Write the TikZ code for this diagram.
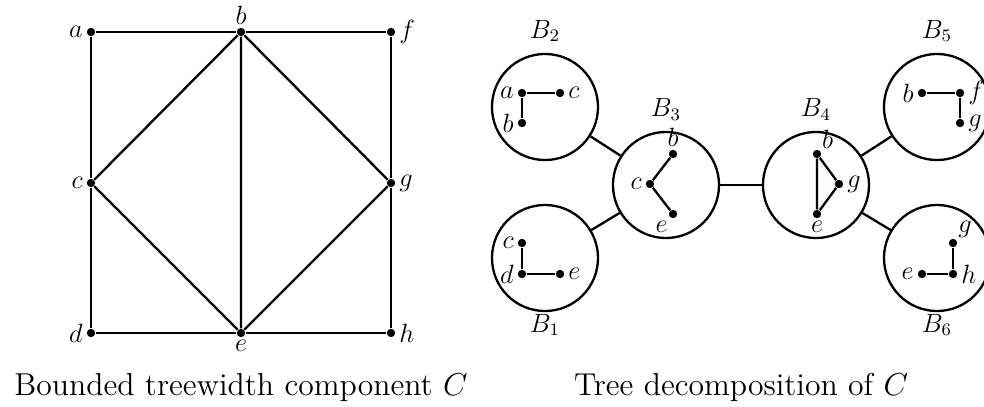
\documentclass[tikz,border=0pt]{standalone}
\begin{document}
\begin{tikzpicture}[x=0.4545pt,y=-0.4545pt,
  vert/.style={circle,fill,inner sep=0pt,minimum size=3.8pt},
  bag/.style={circle,draw,line width=1.05pt,inner sep=0pt,minimum size=48.2pt},
  every label/.style={inner sep=1.5pt,font=\fontsize{11.5}{14}\selectfont},
  blab/.style={anchor=base,font=\fontsize{11.5}{14}\selectfont},
  edge/.style={line width=1.05pt},
  captext/.style={inner sep=0pt,font=\Large,anchor=base}]
\useasboundingbox (0,0) rectangle (984,407);
% left graph
\node[vert,label=left:$a$] (a) at (91,32) {};
\node[vert,label={[label distance=-0.5pt]above:$b$}] (b) at (241,32) {};
\node[vert,label=right:$f$] (f) at (391,32) {};
\node[vert,label=left:$c$] (c) at (91,183) {};
\node[vert,label=right:$g$] (g) at (391,183) {};
\node[vert,label=left:$d$] (d) at (91,333) {};
\node[vert,label={[label distance=-0.5pt]below:$e$}] (e) at (241,333) {};
\node[vert,label=right:$h$] (h) at (391,333) {};
\draw[edge] (a) -- (b) -- (f) -- (g) -- (h) -- (e) -- (d) -- (c) -- (a);
\draw[edge] (b) -- (c) -- (e) -- (g) -- (b) -- (e);
\node[captext] (cap1) at (241,395) {Bounded treewidth component $C$};
% bags
\node[bag] (B2) at (545,107) {};
\node[bag] (B3) at (666,185) {};
\node[bag] (B4) at (816,185) {};
\node[bag] (B5) at (937,107) {};
\node[bag] (B1) at (545,258) {};
\node[bag] (B6) at (937,258) {};
\draw[edge] (B2) -- (B3);
\draw[edge] (B1) -- (B3);
\draw[edge] (B3) -- (B4);
\draw[edge] (B4) -- (B5);
\draw[edge] (B4) -- (B6);
\node[blab] (lB2) at (545,38) {$B_2$};
\node[blab] (lB3) at (666,117) {$B_3$};
\node[blab] (lB4) at (816,117) {$B_4$};
\node[blab] (lB5) at (937,38) {$B_5$};
\node[blab] (lB1) at (545,332) {$B_1$};
\node[blab] (lB6) at (937,332) {$B_6$};
% B2
\node[vert,label=left:$a$] (a2) at (522,93) {};
\node[vert,label=right:$c$] (c2) at (560,93) {};
\node[vert,label=left:$b$] (b2) at (522,123) {};
\draw[edge] (c2) -- (a2) -- (b2);
% B3
\node[vert,label=left:$c$] (c3) at (650,184) {};
\node[vert,label={[label distance=-0.5pt]above:$b$}] (b3) at (673,154) {};
\node[vert,label={[label distance=-0.5pt]-118:$e$}] (e3) at (673,214) {};
\draw[edge] (b3) -- (c3) -- (e3);
% B4
\node[vert,label={[label distance=-1pt]57:$b$}] (b4) at (817,154) {};
\node[vert,label=right:$g$] (g4) at (839,184) {};
\node[vert,label={[label distance=-0.5pt]below:$e$}] (e4) at (817,214) {};
\draw[edge] (b4) -- (g4) -- (e4) -- (b4);
% B5
\node[vert,label=left:$b$] (b5) at (922,93) {};
\node[vert,label=right:$f$] (f5) at (960,93) {};
\node[vert,label=right:$g$] (g5) at (960,123) {};
\draw[edge] (b5) -- (f5) -- (g5);
% B1
\node[vert,label=left:$c$] (c1) at (522,243) {};
\node[vert,label=left:$d$] (d1) at (522,274) {};
\node[vert,label=right:$e$] (e1) at (560,274) {};
\draw[edge] (c1) -- (d1) -- (e1);
% B6
\node[vert,label={[label distance=-1pt]45:$g$}] (g6) at (953,243) {};
\node[vert,label=right:$h$] (h6) at (953,274) {};
\node[vert,label=left:$e$] (e6) at (922,274) {};
\draw[edge] (g6) -- (h6) -- (e6);
\node[captext] (cap2) at (741,395) {Tree decomposition of $C$};
\end{tikzpicture}
\end{document}
